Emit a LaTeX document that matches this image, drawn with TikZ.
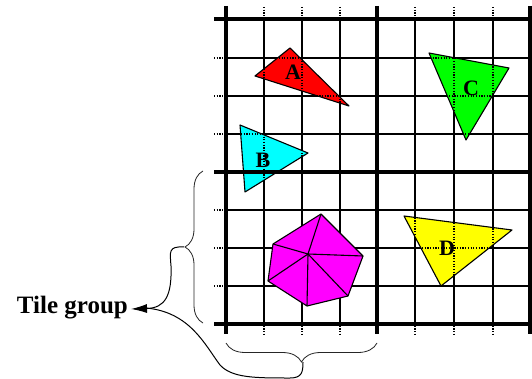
\documentclass[tikz,border=0pt]{standalone}
\usepackage{fontspec}
\setmainfont{Liberation Serif}
\usetikzlibrary{decorations.pathreplacing,arrows.meta}
\definecolor{pRed}{RGB}{255,0,0}
\definecolor{pGreen}{RGB}{0,255,0}
\definecolor{pCyan}{RGB}{0,255,255}
\definecolor{pYellow}{RGB}{255,255,0}
\definecolor{pMagenta}{RGB}{255,0,255}
\begin{document}
\begin{tikzpicture}[x=1pt,y=-1pt,
  thinline/.style={line width=1.4pt},
  dotline/.style={line width=1.2pt, dash pattern=on 1.2pt off 1.5pt},
  thickline/.style={line width=3.2pt},
  poly/.style={draw=black, line width=1.1pt, line join=round},
  lbl/.style={font=\bfseries\fontsize{22}{22}\selectfont, inner sep=0pt},
  bracestyle/.style={decorate, decoration={brace, amplitude=#1}, line width=0.8pt, black!85},
  conn/.style={line width=1pt}]
\useasboundingbox (0,0) rectangle (532,379);
\fill[white] (0,0) rectangle (532,379);
% thin solid grid
\foreach \x in {264,302,340,415,454,493} \draw[thinline] (\x,19) -- (\x,324);
\foreach \y in {58,96,134,210,248,286} \draw[thinline] (226,\y) -- (530,\y);
% polygons A-D
\draw[poly, fill=pRed] (290,48) -- (349,106) -- (255,76) -- cycle;
\draw[poly, fill=pGreen] (429,53) -- (509,68) -- (466,140) -- cycle;
\draw[poly, fill=pCyan] (240,125) -- (308,153) -- (245,192) -- cycle;
\draw[poly, fill=pYellow] (404,216) -- (512,230) -- (441,286) -- cycle;
% dotted grid on top
\foreach \x in {264,302,340,415,454,493} \draw[dotline] (\x,7) -- (\x,334);
\foreach \y in {58,96,134,210,248,286} \draw[dotline] (214,\y) -- (530,\y);
% magenta polygon
\coordinate (pc) at (308,254);
\draw[poly, fill=pMagenta] (321,214) -- (363,256) -- (348,296) -- (307,306) -- (268,281) -- (273,244) -- cycle;
\foreach \p in {(321,214),(363,256),(348,296),(307,306),(268,281),(273,244)} \draw[poly] (pc) -- \p;
% thick grid
\foreach \x in {226,377,530} \draw[thickline] (\x,6) -- (\x,334);
\foreach \y in {19,172,324} \draw[thickline] (214,\y) -- (532,\y);
% labels
\node[lbl] (la) at (293,72) {A};
\node[lbl] (lb) at (263,160) {B};
\node[lbl] (lc) at (471,88) {C};
\node[lbl] (ld) at (447,248) {D};
% braces
\draw[bracestyle=18pt] (203,323) -- (203,171);
\draw[bracestyle=19pt] (377,343) -- (226,343);
\coordinate (bt1) at (184,247);
\coordinate (bt2) at (303,362);
% tile group
\node[font=\bfseries\fontsize{25}{25}\selectfont, anchor=base east, inner sep=0pt] (tg) at (128,313) {Tile group};
\coordinate (tip) at (131,309);
\draw[conn, -{Latex[length=16pt,width=9pt]}] (bt1) .. controls (168,246) and (170,252) .. (171,266) .. controls (172,296) and (165,308) .. (tip);
\draw[conn] (bt2) .. controls (303,372) and (302,378) .. (290,378) .. controls (255,378) and (232,378) .. (220,365) .. controls (205,345) and (190,312) .. (146,308);
\end{tikzpicture}
\end{document}
